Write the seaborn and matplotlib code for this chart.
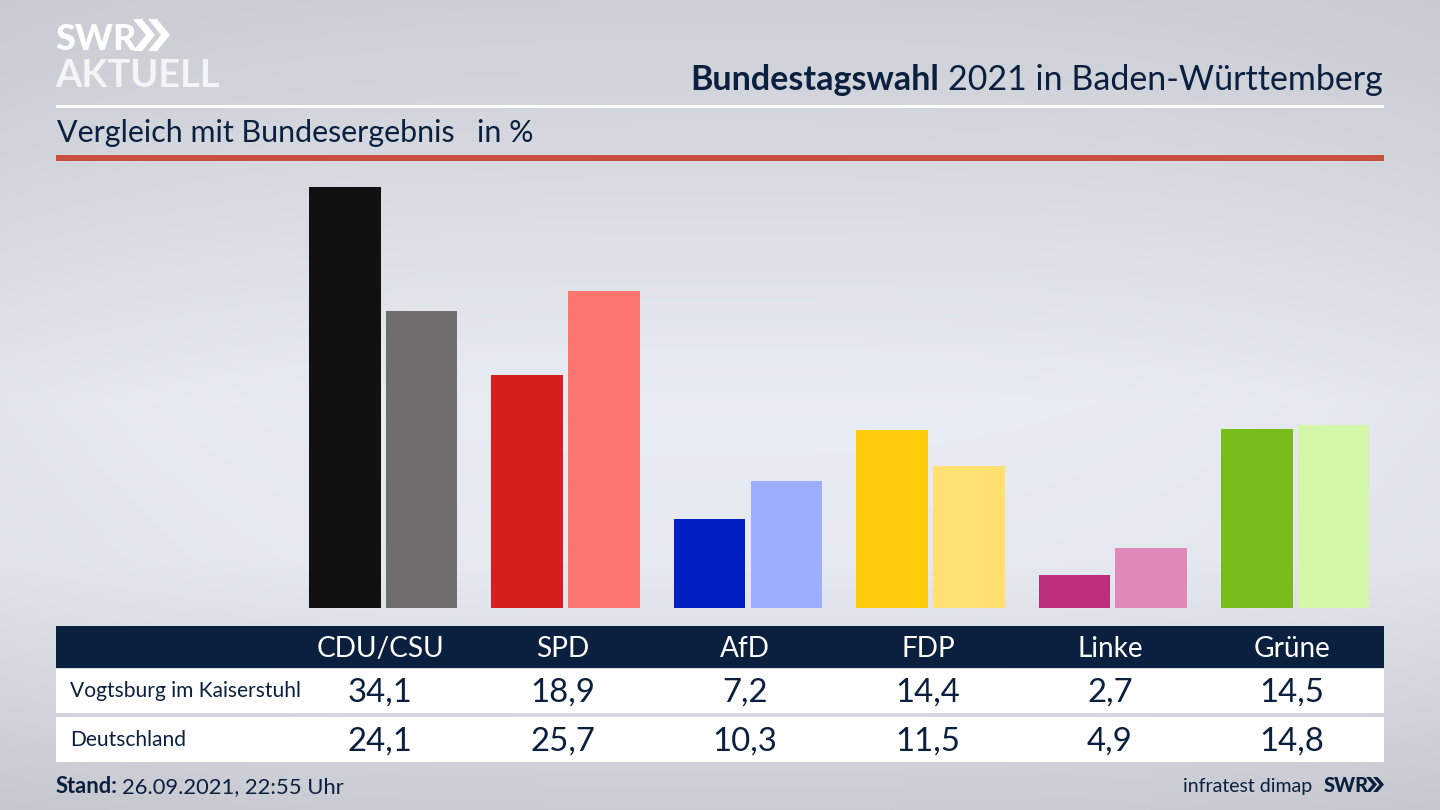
import numpy as np
import pandas as pd
import matplotlib
matplotlib.use("Agg")
import matplotlib.pyplot as plt
from matplotlib.patches import Rectangle, Polygon
import seaborn as sns

parties = ["CDU/CSU", "SPD", "AfD", "FDP", "Linke", "Grüne"]
local_name = "Vogtsburg im Kaiserstuhl"
national_name = "Deutschland"
local_values = [34.1, 18.9, 7.2, 14.4, 2.7, 14.5]
national_values = [24.1, 25.7, 10.3, 11.5, 4.9, 14.8]
local_colors = ["#111111", "#d71f1d", "#0020c4", "#ffcb0a", "#bc2f7c", "#78bc1b"]
national_colors = ["#6f6e6c", "#ff7570", "#9dadff", "#ffe070", "#e088b8", "#d4f6a8"]

NAVY = "#0b1f3f"
FONT = "Lato"

sns.set_theme(style="white")
plt.rcParams["font.family"] = [FONT, "DejaVu Sans"]

W, H = 1440, 810
fig = plt.figure(figsize=(14.4, 8.1), dpi=100)


def px_axes(left, top, right, bottom, **kw):
    return fig.add_axes([left / W, 1 - bottom / H, (right - left) / W, (bottom - top) / H], **kw)


# background gradient
bg = fig.add_axes([0, 0, 1, 1], zorder=0)
stops_y = [0, 130, 400, 560, 690, 810]
stops_v = [0.815, 0.845, 0.925, 0.915, 0.86, 0.80]
yy = np.arange(H)
xx = np.arange(W)
col = np.interp(yy, stops_y, stops_v)
edge = 1 - 0.025 * np.abs((xx - W / 2) / (W / 2)) ** 3
shade = np.outer(col, edge)
img = np.dstack([shade * 0.985, shade * 1.0, shade * 1.03]).clip(0, 1)
bg.imshow(img, aspect="auto", extent=(0, W, H, 0))
bg.axis("off")

# bars
df = pd.DataFrame({
    "party": parties * 2,
    "region": [local_name] * 6 + [national_name] * 6,
    "value": local_values + national_values,
})
ax = px_axes(56, 160, 1384, 608, zorder=1)
ax.patch.set_alpha(0)
sns.barplot(data=df, x="party", y="value", hue="region", order=parties,
            hue_order=[local_name, national_name], width=0.844, gap=0.07,
            legend=False, ax=ax, saturation=1)
for cont, cols in zip(ax.containers, [local_colors, national_colors]):
    for bar, c in zip(cont, cols):
        bar.set_facecolor(c)
        bar.set_edgecolor("none")
ax.set_xlim((56 - 383.2) / 182.4, (1384 - 383.2) / 182.4)
ax.set_ylim(0, 448 / 12.34)
ax.axis("off")

# overlay in pixel coordinates
ov = fig.add_axes([0, 0, 1, 1], zorder=2)
ov.set_xlim(0, W)
ov.set_ylim(H, 0)
ov.axis("off")
ov.patch.set_alpha(0)


def rect(x0, y0, x1, y1, c):
    ov.add_patch(Rectangle((x0, y0), x1 - x0, y1 - y0, facecolor=c, edgecolor="none"))


def txt(x, y, s, px, color=NAVY, ha="left", weight="normal", **kw):
    return ov.text(x, y, s, fontsize=px * 0.72, color=color, ha=ha, va="baseline",
                   fontweight=weight, **kw)


def chevrons(x, y0, y1, w, t, gap, c, n=2):
    mid = (y0 + y1) / 2
    for i in range(n):
        xs = x + i * gap
        ov.add_patch(Polygon([(xs, y0), (xs + t, y0), (xs + w, mid),
                              (xs + t, y1), (xs, y1), (xs + w - t, mid)],
                             closed=True, facecolor=c, edgecolor="none"))


rect(56, 104.5, 1384, 107.5, "#ffffff")
rect(56, 155, 1384, 160.5, "#c8503f")

# logo
txt(55, 50, "SWR", 36, color="#ffffff", weight="black")
chevrons(133, 19, 51, 22, 9, 15, "#ffffff")
txt(55, 87, "AKTUELL", 38, color="#f4f5f6", weight="bold")

# heading
r = fig.canvas.get_renderer()
t = txt(1383, 90, "2021 in Baden-Württemberg", 34, ha="right")
bb = t.get_window_extent(r)
txt(bb.x0 - 9, 90, "Bundestagswahl", 34, ha="right", weight="bold")
txt(57, 142, "Vergleich mit Bundesergebnis", 30.4)
txt(477, 142, "in %", 30.4)

# table
rect(56, 626, 1384, 668, NAVY)
rect(56, 669, 1384, 713, "#ffffff")
rect(56, 717, 1384, 762, "#ffffff")
label_x = [380, 563, 745, 928, 1110, 1292]
fmt = lambda v: f"{v:.1f}".replace(".", ",")
for x, p, a, b in zip(label_x, parties, local_values, national_values):
    txt(x, 657, p, 28, color="#ffffff", ha="center")
    txt(x, 702, fmt(a), 33, ha="center")
    txt(x, 751, fmt(b), 33, ha="center")
txt(70, 697, local_name, 21)
txt(70, 746, national_name, 21)

# footer
t = txt(56, 793, "Stand:", 22, weight="bold")
bb = t.get_window_extent(r)
txt(bb.x1 + 4, 793, "26.09.2021, 22:55 Uhr", 22)
txt(1312, 792, "infratest dimap", 19.5, ha="right")
txt(1324, 792, "SWR", 20, weight="black")
chevrons(1366, 777, 792, 11, 4.5, 7, NAVY)

fig.savefig("out.png", dpi=100)
